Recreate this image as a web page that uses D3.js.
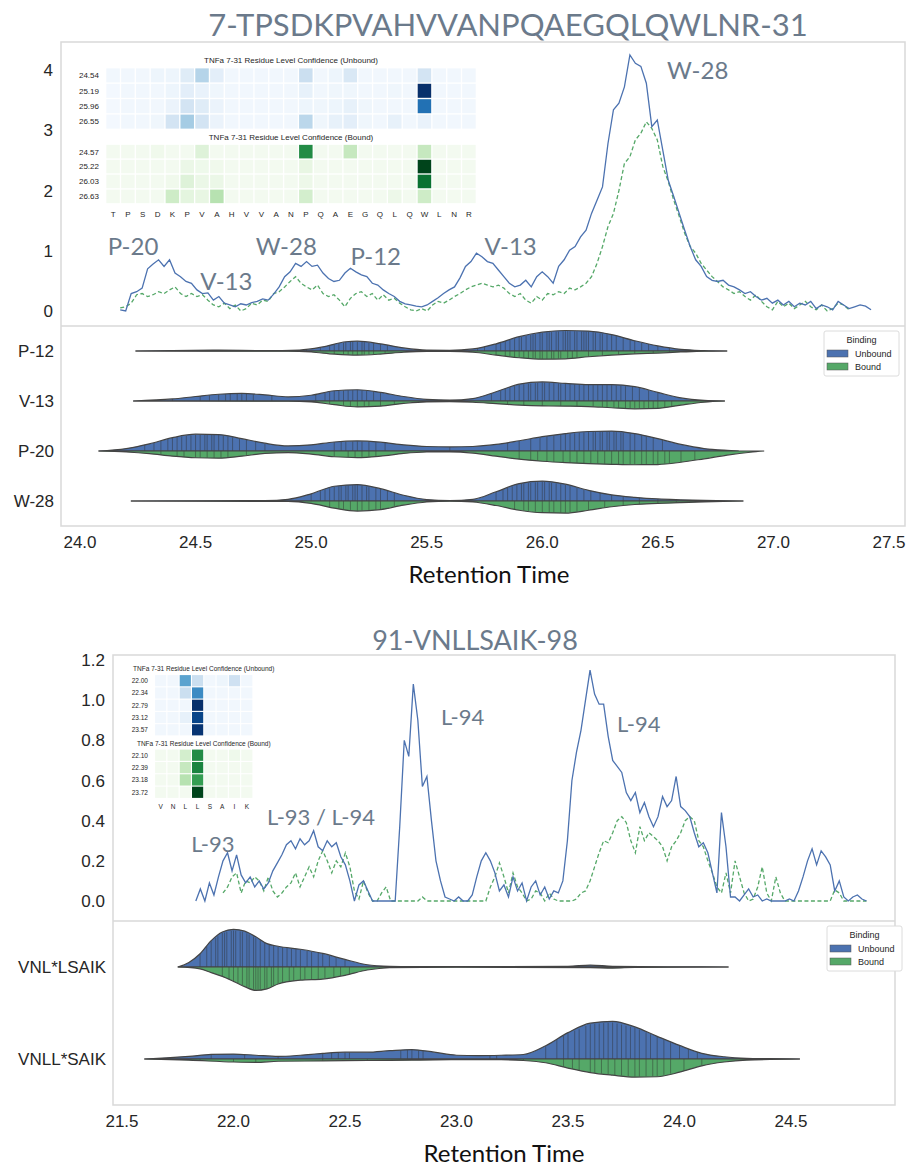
<!DOCTYPE html>
<html>
<head>
<meta charset="utf-8">
<script src="https://cdn.jsdelivr.net/npm/d3@7"></script>
<style>
  body { margin: 0; background: #fff; }
  svg text { font-family: "Liberation Sans", Arial, sans-serif; }
</style>
</head>
<body>
<svg id="chart" width="912" height="1166"></svg>
<script>
// ---------- top peptide: chromatogram traces (sampled every topStep min) ----------
var topStart = 24.174, topStep = 0.02371;
var topUnboundTrace = [0.02,0.0,0.29,0.32,0.38,0.7,0.78,0.85,0.74,0.85,0.63,0.57,0.49,0.46,0.35,0.29,0.3,0.18,0.24,0.13,
  0.1,0.07,0.12,0.1,0.14,0.16,0.2,0.18,0.28,0.4,0.57,0.65,0.79,0.74,0.82,0.74,0.76,0.63,0.54,0.49,
  0.51,0.63,0.71,0.65,0.6,0.57,0.46,0.43,0.35,0.29,0.24,0.16,0.12,0.1,0.08,0.07,0.1,0.16,0.22,0.29,
  0.35,0.4,0.55,0.74,0.82,0.96,0.9,0.82,0.79,0.68,0.57,0.46,0.4,0.43,0.51,0.4,0.57,0.65,0.57,0.46,
  0.74,0.85,1.01,1.07,1.23,1.34,1.62,1.84,2.06,2.78,3.34,3.45,3.72,4.25,4.11,4.06,3.78,3.06,3.17,2.67,
  2.17,1.9,1.62,1.34,1.07,0.85,0.74,0.57,0.51,0.49,0.51,0.43,0.4,0.35,0.29,0.32,0.24,0.18,0.21,0.13,
  0.18,0.1,0.16,0.07,0.13,0.1,0.16,0.04,0.1,0.07,0.02,0.16,0.1,0.04,0.07,0.1,0.08,0.02];
var topBoundTrace = [0.05,0.07,0.13,0.27,0.29,0.24,0.27,0.32,0.29,0.35,0.4,0.29,0.24,0.29,0.24,0.27,0.18,0.1,0.07,0.13,
  0.04,0.1,0.0,0.04,0.13,0.1,0.18,0.16,0.29,0.32,0.4,0.49,0.57,0.46,0.4,0.35,0.43,0.29,0.24,0.27,
  0.18,0.07,0.21,0.29,0.32,0.24,0.29,0.18,0.27,0.18,0.21,0.13,0.07,0.02,0.0,0.04,0.0,0.1,0.16,0.13,
  0.18,0.24,0.29,0.35,0.4,0.43,0.46,0.43,0.4,0.43,0.38,0.29,0.24,0.29,0.18,0.13,0.24,0.18,0.29,0.27,
  0.32,0.29,0.38,0.35,0.4,0.46,0.57,0.79,1.07,1.4,1.62,2.0,2.45,2.56,2.84,2.95,3.14,3.03,2.84,2.4,
  2.15,1.84,1.57,1.29,1.07,0.96,0.79,0.68,0.57,0.49,0.4,0.35,0.29,0.32,0.24,0.18,0.27,0.16,0.07,0.02,
  0.16,0.07,0.13,0.04,0.1,0.16,0.07,0.02,0.1,0.0,0.04,0.13,0.1,0.02];
var topYTicks = [0, 1, 2, 3, 4];
var topXTicks = [24.0, 24.5, 25.0, 25.5, 26.0, 26.5, 27.0, 27.5];
var topPeakLabels = [
  { text: "P-20", t: 24.12, v: 0.93 }, { text: "V-13", t: 24.52, v: 0.35 },
  { text: "W-28", t: 24.76, v: 0.93 }, { text: "P-12", t: 25.17, v: 0.76 },
  { text: "V-13", t: 25.75, v: 0.93 }, { text: "W-28", t: 26.54, v: 3.85 }];

// ---------- top peptide: violin density profiles [time, relative density] ----------
var topCats = ["P-12", "V-13", "P-20", "W-28"];
var p12Unbound = [[24.24,0],[24.4,0.02],[24.6,0.04],[24.8,0.02],[24.95,0.05],[25.05,0.2],[25.15,0.45],[25.2,0.48],[25.3,0.35],[25.4,0.15],[25.5,0.04],[25.6,0.03],[25.7,0.1],[25.8,0.35],[25.9,0.7],[26.0,0.92],[26.1,1.0],[26.2,0.97],[26.3,0.8],[26.4,0.5],[26.5,0.25],[26.6,0.08],[26.7,0.02],[26.8,0]];
var p12Bound = [[24.24,0],[24.9,0.01],[25.0,0.05],[25.1,0.15],[25.2,0.2],[25.3,0.15],[25.4,0.06],[25.5,0.02],[25.6,0.02],[25.7,0.06],[25.8,0.2],[25.9,0.33],[26.0,0.4],[26.1,0.38],[26.2,0.28],[26.3,0.2],[26.4,0.14],[26.5,0.1],[26.6,0.05],[26.7,0.01],[26.8,0]];
var v13Unbound = [[24.23,0],[24.4,0.1],[24.5,0.22],[24.6,0.33],[24.7,0.37],[24.8,0.3],[24.9,0.2],[25.0,0.28],[25.1,0.5],[25.2,0.55],[25.3,0.42],[25.4,0.22],[25.5,0.08],[25.6,0.04],[25.7,0.12],[25.8,0.45],[25.9,0.82],[26.0,0.93],[26.1,0.86],[26.2,0.8],[26.3,0.8],[26.4,0.7],[26.5,0.42],[26.6,0.15],[26.7,0.03],[26.79,0]];
var v13Bound = [[24.23,0],[24.9,0.01],[25.0,0.04],[25.1,0.18],[25.2,0.29],[25.3,0.25],[25.4,0.12],[25.5,0.04],[25.6,0.03],[25.7,0.06],[25.8,0.13],[25.9,0.2],[26.0,0.24],[26.1,0.25],[26.2,0.27],[26.3,0.33],[26.4,0.38],[26.5,0.36],[26.6,0.2],[26.7,0.06],[26.79,0]];
var p20Unbound = [[24.08,0],[24.2,0.12],[24.3,0.35],[24.4,0.65],[24.5,0.82],[24.6,0.8],[24.7,0.6],[24.8,0.38],[24.9,0.25],[25.0,0.3],[25.1,0.44],[25.2,0.49],[25.3,0.43],[25.4,0.3],[25.5,0.22],[25.6,0.2],[25.7,0.22],[25.8,0.32],[25.9,0.5],[26.0,0.7],[26.1,0.85],[26.2,0.95],[26.3,0.97],[26.4,0.85],[26.5,0.6],[26.6,0.32],[26.7,0.12],[26.8,0.03],[26.85,0]];
var p20Bound = [[24.08,0],[24.2,0.05],[24.3,0.13],[24.4,0.25],[24.5,0.33],[24.6,0.35],[24.7,0.25],[24.8,0.12],[24.9,0.08],[25.0,0.15],[25.1,0.28],[25.2,0.32],[25.3,0.25],[25.4,0.12],[25.5,0.05],[25.6,0.04],[25.7,0.1],[25.8,0.25],[25.9,0.4],[26.0,0.5],[26.1,0.57],[26.2,0.62],[26.3,0.65],[26.4,0.67],[26.5,0.66],[26.6,0.55],[26.7,0.38],[26.8,0.2],[26.9,0.06],[26.96,0]];
var w28Unbound = [[24.22,0],[24.5,0.01],[24.8,0.02],[24.9,0.08],[25.0,0.35],[25.1,0.72],[25.2,0.8],[25.3,0.6],[25.4,0.28],[25.5,0.07],[25.6,0.02],[25.7,0.08],[25.8,0.45],[25.9,0.85],[26.0,0.97],[26.1,0.82],[26.2,0.52],[26.3,0.3],[26.4,0.18],[26.5,0.1],[26.6,0.06],[26.7,0.03],[26.87,0]];
var w28Bound = [[24.22,0],[24.9,0.02],[25.0,0.12],[25.1,0.35],[25.2,0.49],[25.3,0.42],[25.4,0.2],[25.5,0.05],[25.6,0.01],[25.7,0.05],[25.8,0.22],[25.9,0.45],[26.0,0.57],[26.1,0.59],[26.2,0.45],[26.3,0.28],[26.4,0.17],[26.5,0.12],[26.6,0.08],[26.7,0.04],[26.87,0]];
// individual observations (inner sticks)
var p12UnboundObs = [24.45,24.62,24.98,25.04,25.08,25.1,25.12,25.14,25.15,25.17,25.18,25.2,25.22,25.23,25.25,25.27,25.3,25.33,25.72,25.75,25.8,25.82,25.84,25.86,25.88,25.9,25.91,25.93,25.95,25.96,25.97,25.99,26.0,26.02,26.03,26.04,26.06,26.07,26.09,26.1,26.11,26.12,26.14,26.15,26.17,26.18,26.19,26.2,26.22,26.23,26.25,26.26,26.28,26.3,26.32,26.35,26.38,26.4,26.43,26.46,26.5,26.55];
var p12BoundObs = [25.1,25.14,25.16,25.18,25.2,25.22,25.23,25.25,25.27,25.32,25.8,25.84,25.86,25.88,25.9,25.92,25.94,25.96,25.97,25.99,26.0,26.02,26.04,26.05,26.07,26.08,26.11,26.13,26.15,26.2,26.26,26.33,26.4,26.48,26.55];
var v13UnboundObs = [24.4,24.52,24.56,24.6,24.63,24.65,24.68,24.7,24.72,24.75,24.83,25.02,25.06,25.08,25.1,25.12,25.14,25.16,25.18,25.2,25.22,25.24,25.27,25.3,25.78,25.82,25.84,25.86,25.88,25.9,25.92,25.94,25.95,25.97,25.98,26.0,26.01,26.03,26.05,26.07,26.08,26.1,26.12,26.14,26.16,26.18,26.2,26.22,26.24,26.26,26.28,26.3,26.32,26.34,26.36,26.39,26.42,26.46,26.5];
var v13BoundObs = [25.08,25.14,25.17,25.2,25.23,25.25,25.3,25.36,25.85,25.92,26.0,26.08,26.15,26.22,26.26,26.28,26.31,26.33,26.36,26.38,26.4,26.42,26.44,26.46,26.48,26.5,26.53,26.56];
var p20UnboundObs = [24.28,24.32,24.35,24.38,24.4,24.42,24.44,24.46,24.48,24.5,24.52,24.54,24.55,24.57,24.58,24.6,24.62,24.64,24.66,24.69,24.72,24.76,24.8,25.1,25.13,25.15,25.18,25.2,25.22,25.25,25.28,25.32,25.6,25.85,25.9,25.95,25.99,26.02,26.05,26.08,26.1,26.12,26.14,26.16,26.18,26.2,26.22,26.23,26.25,26.26,26.28,26.29,26.31,26.32,26.34,26.35,26.38,26.4,26.43,26.45,26.48,26.52];
var p20BoundObs = [24.35,24.42,24.45,24.5,24.52,24.55,24.58,24.61,24.64,24.72,25.1,25.16,25.19,25.22,25.25,25.28,25.9,25.95,25.98,26.02,26.05,26.09,26.12,26.15,26.18,26.21,26.24,26.27,26.3,26.33,26.35,26.38,26.4,26.43,26.45,26.48,26.5,26.53,26.55,26.6,26.66];
var w28UnboundObs = [25.0,25.04,25.06,25.08,25.1,25.12,25.13,25.15,25.16,25.18,25.19,25.2,25.22,25.24,25.25,25.28,25.3,25.33,25.36,25.8,25.83,25.85,25.87,25.89,25.91,25.92,25.94,25.95,25.97,25.98,26.0,26.01,26.03,26.04,26.06,26.08,26.1,26.12,26.15,26.18,26.21,26.25,26.3,26.35,26.42,26.5];
var w28BoundObs = [25.08,25.12,25.14,25.17,25.2,25.22,25.25,25.28,25.3,25.36,25.88,25.92,25.94,25.97,26.0,26.03,26.05,26.08,26.1,26.12,26.15,26.2,26.27,26.35,26.42,26.5,26.58];

// ---------- top peptide: residue confidence heatmaps ----------
var topResidues = ["T","P","S","D","K","P","V","A","H","V","V","A","N","P","Q","A","E","G","Q","L","Q","W","L","N","R"];
var topUnboundTimes = ["24.54", "25.19", "25.96", "26.55"];
var topUnboundConf = [
  [.03,.03,.03,.05,.05,.12,.3,.1,.03,.03,.03,.03,.03,.22,.03,.05,.15,.03,.03,.03,.03,.18,.03,.03,.03],
  [.02,.03,.03,.03,.05,.1,.07,.04,.03,.03,.03,.03,.03,.08,.03,.04,.04,.03,.03,.04,.03,1.0,.03,.03,.03],
  [.02,.03,.03,.03,.06,.18,.12,.06,.03,.03,.03,.03,.03,.05,.04,.05,.08,.04,.03,.03,.03,.75,.03,.03,.03],
  [.02,.03,.03,.04,.18,.35,.18,.06,.03,.03,.03,.03,.03,.28,.04,.08,.1,.04,.03,.08,.03,.07,.03,.03,.03]];
var topBoundTimes = ["24.57", "25.22", "26.03", "26.63"];
var topBoundConf = [
  [.03,.03,.03,.05,.03,.03,.15,.03,.03,.03,.03,.03,.03,.75,.03,.03,.25,.03,.03,.03,.03,.25,.03,.03,.03],
  [.03,.03,.03,.03,.03,.08,.06,.05,.03,.03,.03,.03,.03,.1,.03,.03,.03,.03,.03,.03,.03,1.0,.03,.03,.03],
  [.03,.03,.03,.03,.05,.15,.08,.08,.03,.03,.03,.03,.03,.07,.03,.03,.03,.03,.03,.03,.03,.85,.03,.03,.03],
  [.03,.03,.03,.03,.22,.12,.1,.3,.03,.03,.03,.03,.03,.2,.03,.03,.03,.03,.03,.07,.03,.22,.03,.03,.03]];

// ---------- bottom peptide: chromatogram traces ----------
var botStart = 21.831, botStep = 0.02032;
var botBoundStart = 21.953;
var botUnboundTrace = [0.0,0.06,0.0,0.09,0.03,0.12,0.2,0.24,0.15,0.23,0.13,0.09,0.12,0.07,0.1,0.06,0.09,0.15,0.19,0.23,
  0.28,0.3,0.26,0.31,0.28,0.3,0.35,0.27,0.25,0.3,0.27,0.29,0.22,0.18,0.1,0.0,0.08,0.1,0.05,0.0,
  0.0,0.0,0.0,0.0,0.0,0.37,0.8,0.72,1.08,0.9,0.57,0.62,0.4,0.2,0.1,0.02,0.01,0.0,0.02,0.0,
  0.0,0.03,0.12,0.2,0.24,0.2,0.14,0.05,0.08,0.02,0.12,0.05,0.09,0.0,0.07,0.1,0.03,0.07,0.01,0.05,
  0.04,0.1,0.3,0.6,0.74,0.85,1.0,1.15,1.03,0.98,0.98,0.82,0.7,0.67,0.64,0.54,0.5,0.54,0.44,0.49,
  0.42,0.37,0.42,0.52,0.47,0.5,0.62,0.47,0.45,0.42,0.34,0.27,0.29,0.24,0.14,0.04,0.44,0.27,0.02,0.02,
  0.0,0.03,0.06,0.02,0.03,0.0,0.01,0.0,0.0,0.0,0.0,0.01,0.0,0.05,0.12,0.2,0.26,0.18,0.25,0.22,
  0.18,0.05,0.1,0.02,0.0,0.02,0.03,0.01,0.0];
var botBoundTrace = [0.04,0.07,0.12,0.14,0.04,0.1,0.09,0.12,0.1,0.05,0.12,0.05,0.02,0.04,0.07,0.09,0.14,0.07,0.12,0.17,
  0.12,0.2,0.25,0.2,0.14,0.2,0.17,0.24,0.17,0.05,0.01,0.1,0.04,0.0,0.0,0.04,0.07,0.0,0.0,0.0,
  0.0,0.0,0.0,0.0,0.02,0.0,0.0,0.0,0.0,0.0,0.0,0.0,0.0,0.0,0.0,0.0,0.0,0.0,0.0,0.07,
  0.12,0.19,0.12,0.04,0.14,0.07,0.04,0.0,0.01,0.05,0.04,0.0,0.04,0.01,0.0,0.0,0.0,0.0,0.01,0.04,
  0.05,0.1,0.17,0.24,0.3,0.29,0.34,0.4,0.42,0.39,0.3,0.24,0.37,0.3,0.34,0.32,0.3,0.27,0.2,0.27,
  0.3,0.34,0.4,0.42,0.4,0.3,0.27,0.2,0.14,0.07,0.04,0.14,0.04,0.2,0.12,0.04,0.0,0.01,0.07,0.17,
  0.04,0.0,0.12,0.04,0.0,0.0,0.0,0.0,0.0,0.0,0.0,0.0,0.0,0.0,0.0,0.055,0.04,0.0,0.0,0.0,
  0.0,0.0,0.0];
var botYTicks = [0.0, 0.2, 0.4, 0.6, 0.8, 1.0, 1.2];
var botXTicks = [21.5, 22.0, 22.5, 23.0, 23.5, 24.0, 24.5];
var botPeakLabels = [
  { text: "L-93", t: 21.81, v: 0.244 }, { text: "L-93 / L-94", t: 22.15, v: 0.38 },
  { text: "L-94", t: 22.93, v: 0.876 }, { text: "L-94", t: 23.72, v: 0.84 }];

// ---------- bottom peptide: violins ----------
var botCats = ["VNL*LSAIK", "VNLL*SAIK"];
var vnlUnbound = [[21.75,0],[21.8,0.12],[21.85,0.35],[21.9,0.7],[21.95,0.93],[22.0,1.0],[22.05,0.95],[22.1,0.8],[22.15,0.62],[22.2,0.55],[22.3,0.47],[22.4,0.36],[22.5,0.2],[22.6,0.06],[22.7,0.02],[22.8,0.01],[23.0,0.01],[23.5,0.02],[23.6,0.05],[23.7,0.02],[24.0,0.005],[24.22,0]];
var vnlBound = [[21.75,0],[21.85,0.05],[21.9,0.15],[21.95,0.25],[22.0,0.38],[22.05,0.52],[22.1,0.62],[22.15,0.58],[22.2,0.45],[22.3,0.35],[22.4,0.32],[22.5,0.22],[22.6,0.08],[22.7,0.02],[23.0,0.005],[23.6,0.02],[23.7,0.03],[23.8,0.01],[24.22,0]];
var vnllUnbound = [[21.6,0],[21.7,0.03],[21.8,0.07],[21.9,0.12],[22.0,0.13],[22.1,0.1],[22.2,0.07],[22.3,0.1],[22.4,0.15],[22.5,0.18],[22.6,0.18],[22.7,0.22],[22.8,0.25],[22.9,0.18],[23.0,0.1],[23.1,0.09],[23.2,0.1],[23.3,0.12],[23.4,0.35],[23.5,0.7],[23.6,0.95],[23.7,1.0],[23.8,0.85],[23.9,0.6],[24.0,0.36],[24.1,0.15],[24.2,0.06],[24.3,0.02],[24.4,0.01],[24.54,0]];
var vnllBound = [[21.6,0],[21.8,0.03],[22.0,0.08],[22.1,0.09],[22.2,0.06],[22.4,0.05],[22.6,0.04],[22.8,0.03],[23.0,0.02],[23.2,0.02],[23.3,0.04],[23.4,0.1],[23.5,0.24],[23.6,0.36],[23.7,0.43],[23.8,0.48],[23.9,0.47],[24.0,0.35],[24.1,0.18],[24.2,0.08],[24.3,0.03],[24.54,0]];
var vnlUnboundObs = [21.85,21.88,21.9,21.92,21.93,21.95,21.96,21.97,21.99,22.0,22.01,22.03,22.04,22.06,22.07,22.09,22.1,22.12,22.14,22.16,22.18,22.2,22.22,22.24,22.26,22.28,22.3,22.33,22.35,22.38,22.4,22.43,22.46,22.5,23.55];
var vnlBoundObs = [21.95,21.98,22.0,22.02,22.04,22.06,22.07,22.09,22.1,22.11,22.12,22.14,22.15,22.17,22.18,22.2,22.22,22.25,22.27,22.3,22.32,22.35,22.38,22.41,22.45,22.48,22.52];
var vnllUnboundObs = [21.9,22.05,22.2,22.4,22.44,22.47,22.5,22.52,22.75,22.78,22.8,22.83,22.85,23.15,23.18,23.4,23.45,23.48,23.5,23.53,23.55,23.58,23.6,23.62,23.64,23.66,23.68,23.7,23.72,23.74,23.76,23.78,23.8,23.82,23.85,23.87,23.9,23.93,23.96,24.0,24.04,24.08];
var vnllBoundObs = [21.85,22.0,22.1,22.4,22.6,23.3,23.48,23.52,23.55,23.6,23.62,23.65,23.68,23.71,23.74,23.77,23.8,23.82,23.85,23.88,23.9,23.93,23.96,24.02,24.1];

var botResidues = ["V","N","L","L","S","A","I","K"];
var botUnboundTimes = ["22.00", "22.34", "22.79", "23.12", "23.57"];
var botUnboundConf = [
  [.03,.03,.55,.22,.03,.05,.2,.03],
  [.03,.03,.22,.65,.03,.03,.03,.03],
  [.03,.03,.03,1.0,.03,.03,.03,.03],
  [.03,.03,.08,.92,.03,.03,.03,.03],
  [.03,.03,.03,.98,.03,.03,.03,.03]];
var botBoundTimes = ["22.10", "22.39", "23.18", "23.72"];
var botBoundConf = [
  [.03,.03,.2,.75,.03,.03,.06,.03],
  [.03,.03,.25,.78,.03,.03,.03,.03],
  [.03,.03,.3,.68,.03,.03,.03,.03],
  [.03,.03,.03,1.0,.03,.03,.03,.03]];

// ---------- drawing ----------
var svg = d3.select("#chart");
var slate = "#6b7a8b";
var blue = "#4c72b0", green = "#55a868";

function drawPanel(p) {
  var g = svg.append("g");
  var x = d3.scaleLinear().domain(p.xDomain).range(p.xRange);
  var y = d3.scaleLinear().domain(p.yDomain).range(p.yRange);

  g.append("text").attr("x", p.titleX).attr("y", p.titleY)
    .attr("text-anchor", "middle").style("font-family", "Lato")
    .style("font-size", p.titleSize + "px").attr("fill", slate).text(p.title);

  g.append("rect").attr("x", p.left).attr("y", p.top)
    .attr("width", p.right - p.left).attr("height", p.bottom - p.top)
    .attr("fill", "none").attr("stroke", "#d9d9d9").attr("stroke-width", 1.5);
  g.append("line").attr("x1", p.left).attr("x2", p.right).attr("y1", p.split).attr("y2", p.split)
    .attr("stroke", "#d9d9d9").attr("stroke-width", 1.5);

  // y ticks of the chromatogram
  g.selectAll(".yt").data(p.yTicks).enter().append("text")
    .attr("x", p.left - 8).attr("y", function(d) { return y(d) + 6; })
    .attr("text-anchor", "end").style("font-size", "17px").attr("fill", "#262626")
    .text(p.yFmt);
  // x ticks
  g.selectAll(".xt").data(p.xTicks).enter().append("text")
    .attr("x", function(d) { return x(d); }).attr("y", p.bottom + 22)
    .attr("text-anchor", "middle").style("font-size", "17px").attr("fill", "#262626")
    .text(d3.format(".1f"));
  g.append("text").attr("x", p.xLabelX).attr("y", p.bottom + 57)
    .attr("text-anchor", "middle").style("font-family", "Lato").style("font-size", "24px")
    .attr("fill", "#111").text("Retention Time");

  // heatmaps
  drawHeat(g, p.heat);

  // chromatogram lines
  var line = d3.line().x(function(d) { return x(d[0]); }).y(function(d) { return y(d[1]); });
  var unb = p.unboundTrace.map(function(v, i) { return [p.traceStart + i * p.traceStep, v]; });
  var bnd = p.boundTrace.map(function(v, i) { return [p.boundStart + i * p.traceStep, v]; });
  g.append("path").attr("d", line(bnd)).attr("fill", "none").attr("stroke", green)
    .attr("stroke-width", 1.3).attr("stroke-dasharray", "4,2.5");
  g.append("path").attr("d", line(unb)).attr("fill", "none").attr("stroke", blue).attr("stroke-width", 1.3);

  g.selectAll(".pk").data(p.peaks).enter().append("text")
    .attr("x", function(d) { return x(d.t); }).attr("y", function(d) { return y(d.v); })
    .style("font-family", "Lato")
    .style("font-size", p.peakSize + "px").attr("fill", slate)
    .text(function(d) { return d.text; });

  // split violins
  var band = d3.scaleBand().domain(p.cats).range([p.split, p.bottom]);
  var half = band.bandwidth() * 0.41;
  p.violins.forEach(function(v) {
    var cy = band(v.cat) + band.bandwidth() / 2;
    [[v.unbound, v.unboundObs, -1, blue], [v.bound, v.boundObs, 1, green]].forEach(function(h) {
      var prof = h[0], sign = h[2];
      var area = d3.area().curve(d3.curveMonotoneX)
        .x(function(d) { return x(d[0]); })
        .y0(cy).y1(function(d) { return cy + sign * half * d[1]; });
      g.append("path").attr("d", area(prof)).attr("fill", h[3]).attr("stroke", "none");
      var dens = d3.scaleLinear().domain(prof.map(function(d) { return d[0]; }))
        .range(prof.map(function(d) { return d[1]; })).clamp(true);
      g.selectAll(null).data(h[1]).enter().append("line")
        .attr("x1", function(d) { return x(d); }).attr("x2", function(d) { return x(d); })
        .attr("y1", cy).attr("y2", function(d) { return cy + sign * half * dens(d) * 0.97; })
        .attr("stroke", "#2b2b2b").attr("stroke-opacity", 0.55).attr("stroke-width", 0.8);
      g.append("path").attr("d", area(prof)).attr("fill", "none")
        .attr("stroke", "#444").attr("stroke-width", 1.2);
    });
  });
  g.selectAll(".cat").data(p.cats).enter().append("text")
    .attr("x", p.left - 7).attr("y", function(d) { return band(d) + band.bandwidth() / 2 + 6; })
    .attr("text-anchor", "end").style("font-size", "17px").attr("fill", "#262626")
    .text(function(d) { return d; });

  drawLegend(g, p.legendX, p.split + 5);
}

function drawHeat(g, h) {
  var cols = d3.scaleBand().domain(d3.range(h.residues.length)).range([h.x0, h.x1]).padding(0.09);
  [[h.unTimes, h.unConf, h.unRange, "Unbound", d3.interpolateBlues],
   [h.bTimes, h.bConf, h.bRange, "Bound", d3.interpolateGreens]].forEach(function(blk) {
    var rows = d3.scaleBand().domain(blk[0]).range(blk[2]).padding(0.09);
    g.append("text").attr("x", (h.x0 + h.x1) / 2).attr("y", blk[2][0] - h.fs * 0.45)
      .attr("text-anchor", "middle").style("font-size", h.fs + "px").attr("fill", "#262626")
      .text("TNFa 7-31 Residue Level Confidence (" + blk[3] + ")");
    blk[0].forEach(function(t, r) {
      g.append("text").attr("x", h.x0 - 6).attr("y", rows(t) + rows.bandwidth() / 2 + h.fs * 0.36)
        .attr("text-anchor", "end").style("font-size", h.fs + "px").attr("fill", "#262626").text(t);
      g.selectAll(null).data(blk[1][r]).enter().append("rect")
        .attr("x", function(d, i) { return cols(i); }).attr("y", rows(t))
        .attr("width", cols.bandwidth()).attr("height", rows.bandwidth())
        .attr("fill", function(d) { return blk[4](d); });
    });
  });
  g.selectAll(null).data(h.residues).enter().append("text")
    .attr("x", function(d, i) { return cols(i) + cols.bandwidth() / 2; })
    .attr("y", h.bRange[1] + h.fs * 1.6)
    .attr("text-anchor", "middle").style("font-size", h.fs + "px").attr("fill", "#262626")
    .text(function(d) { return d; });
}

function drawLegend(g, lx, ly) {
  var lg = g.append("g").attr("transform", "translate(" + lx + "," + ly + ")");
  lg.append("rect").attr("width", 75).attr("height", 45).attr("rx", 2)
    .attr("fill", "#fff").attr("stroke", "#dcdcdc");
  lg.append("text").attr("x", 37.5).attr("y", 12).attr("text-anchor", "middle")
    .style("font-size", "9px").attr("fill", "#262626").text("Binding");
  [["Unbound", blue], ["Bound", green]].forEach(function(e, i) {
    lg.append("rect").attr("x", 3).attr("y", 19 + i * 13).attr("width", 21).attr("height", 7)
      .attr("fill", e[1]).attr("stroke", "#555").attr("stroke-width", 0.5);
    lg.append("text").attr("x", 31).attr("y", 26 + i * 13)
      .style("font-size", "9px").attr("fill", "#262626").text(e[0]);
  });
}

drawPanel({
  title: "7-TPSDKPVAHVVANPQAEGQLQWLNR-31", titleX: 508, titleY: 36, titleSize: 31,
  left: 61, right: 905, top: 42, split: 326, bottom: 526,
  xDomain: [24, 27.5], xRange: [80, 889], yDomain: [0, 4], yRange: [311, 70],
  yTicks: topYTicks, yFmt: d3.format("d"), xTicks: topXTicks, xLabelX: 489,
  traceStart: topStart, boundStart: topStart, traceStep: topStep,
  unboundTrace: topUnboundTrace, boundTrace: topBoundTrace,
  peaks: topPeakLabels, peakSize: 24, cats: topCats, legendX: 824,
  violins: [
    { cat: "P-12", unbound: p12Unbound, bound: p12Bound, unboundObs: p12UnboundObs, boundObs: p12BoundObs },
    { cat: "V-13", unbound: v13Unbound, bound: v13Bound, unboundObs: v13UnboundObs, boundObs: v13BoundObs },
    { cat: "P-20", unbound: p20Unbound, bound: p20Bound, unboundObs: p20UnboundObs, boundObs: p20BoundObs },
    { cat: "W-28", unbound: w28Unbound, bound: w28Bound, unboundObs: w28UnboundObs, boundObs: w28BoundObs }],
  heat: { residues: topResidues, x0: 105, x1: 477, fs: 8,
    unTimes: topUnboundTimes, unConf: topUnboundConf, unRange: [67, 130],
    bTimes: topBoundTimes, bConf: topBoundConf, bRange: [143.5, 204.5] }
});

drawPanel({
  title: "91-VNLLSAIK-98", titleX: 475, titleY: 650, titleSize: 27,
  left: 113, right: 895, top: 655, split: 921, bottom: 1105,
  xDomain: [21.5, 24.5], xRange: [122, 791], yDomain: [0, 1.2], yRange: [901, 660],
  yTicks: botYTicks, yFmt: d3.format(".1f"), xTicks: botXTicks, xLabelX: 504,
  traceStart: botStart, boundStart: botBoundStart, traceStep: botStep,
  unboundTrace: botUnboundTrace, boundTrace: botBoundTrace,
  peaks: botPeakLabels, peakSize: 22, cats: botCats, legendX: 827,
  violins: [
    { cat: "VNL*LSAIK", unbound: vnlUnbound, bound: vnlBound, unboundObs: vnlUnboundObs, boundObs: vnlBoundObs },
    { cat: "VNLL*SAIK", unbound: vnllUnbound, bound: vnllBound, unboundObs: vnllUnboundObs, boundObs: vnllBoundObs }],
  heat: { residues: botResidues, x0: 154, x1: 253.5, fs: 6.5,
    unTimes: botUnboundTimes, unConf: botUnboundConf, unRange: [674, 736.5],
    bTimes: botBoundTimes, bConf: botBoundConf, bRange: [748.5, 799] }
});
</script>
</body>
</html>
